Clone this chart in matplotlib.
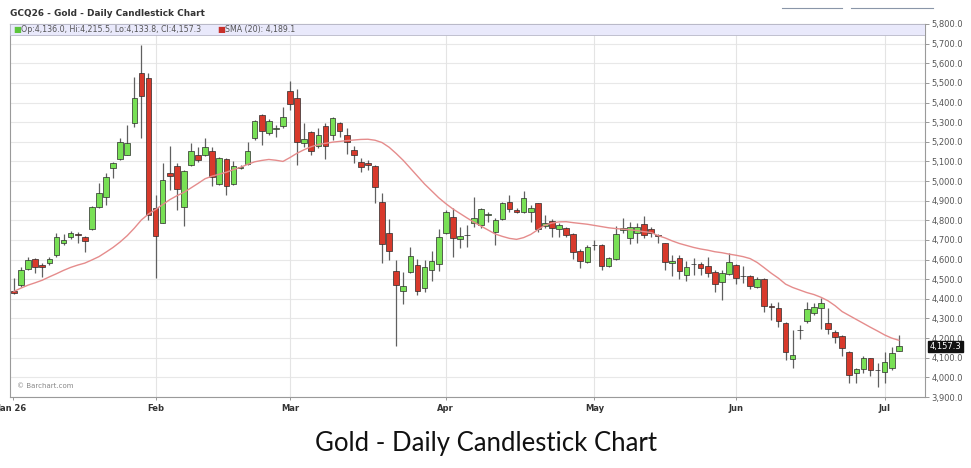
import numpy as np
import matplotlib
matplotlib.use("Agg")
import matplotlib.pyplot as plt
from matplotlib.patches import Rectangle
from matplotlib.lines import Line2D
import matplotlib.transforms as mtransforms

# daily bars, Jan 2 2026 .. Jul 2026 (trading days)
opens = [4441, 4470, 4550, 4601, 4572, 4584, 4623, 4686, 4713, 4730,
         4717, 4754, 4869, 4920, 5065, 5111, 5133, 5294, 5552, 5523,
         4861, 4788, 5039, 5077, 4869, 5082, 5133, 5133, 5155, 4985,
         5111, 4985, 5068, 5087, 5218, 5336, 5246, 5265, 5280, 5460,
         5421, 5192, 5251, 5179, 5282, 5235, 5294, 5235, 5158, 5099,
         5090, 5077, 4895, 4737, 4543, 4441, 4538, 4572, 4454, 4547,
         4577, 4737, 4818, 4703, 4723, 4785, 4776, 4828, 4742, 4805,
         4895, 4852, 4844, 4844, 4887, 4771, 4798, 4754, 4759, 4730,
         4645, 4589, 4672, 4674, 4567, 4601, 4749, 4708, 4737, 4781,
         4754, 4727, 4683, 4581, 4606, 4521, 4575, 4577, 4567, 4538,
         4487, 4526, 4572, 4518, 4516, 4459, 4499, 4362, 4352, 4275,
         4092, 4239, 4289, 4329, 4352, 4275, 4233, 4211, 4131, 4021,
         4041, 4097, 4035, 4029, 4046, 4136.0]
highs = [4506, 4564, 4615, 4610, 4581, 4615, 4737, 4730, 4747, 4742,
         4720, 4875, 4992, 5042, 5095, 5218, 5285, 5532, 5693, 5549,
         4929, 5090, 5179, 5090, 5055, 5192, 5175, 5218, 5175, 5122,
         5116, 5104, 5080, 5200, 5310, 5340, 5315, 5285, 5376, 5511,
         5467, 5294, 5255, 5269, 5294, 5328, 5302, 5269, 5179, 5116,
         5107, 5080, 4938, 4805, 4598, 4538, 4665, 4601, 4598, 4645,
         4754, 4852, 4861, 4767, 4776, 4920, 4861, 4844, 4810, 4895,
         4929, 4861, 4951, 4878, 4890, 4827, 4805, 4785, 4766, 4737,
         4655, 4674, 4700, 4680, 4615, 4771, 4810, 4793, 4788, 4822,
         4764, 4730, 4686, 4623, 4623, 4594, 4606, 4589, 4615, 4547,
         4547, 4632, 4577, 4567, 4521, 4513, 4504, 4377, 4385, 4280,
         4241, 4267, 4385, 4377, 4403, 4352, 4241, 4216, 4136, 4046,
         4109, 4100, 4071, 4131, 4156, 4215.5]
lows = [4425, 4462, 4545, 4532, 4513, 4572, 4615, 4674, 4703, 4683,
        4640, 4750, 4863, 4878, 5014, 5108, 5133, 5277, 5218, 4802,
        4505, 4785, 4954, 4852, 4771, 5075, 5099, 5128, 4975, 4980,
        4929, 4980, 5060, 5082, 5209, 5184, 5235, 5223, 5269, 5362,
        5082, 5175, 5133, 5167, 5111, 5209, 5226, 5138, 5090, 5048,
        5056, 4887, 4581, 4598, 4160, 4374, 4530, 4420, 4436, 4492,
        4543, 4730, 4615, 4657, 4665, 4767, 4759, 4793, 4674, 4800,
        4844, 4836, 4836, 4793, 4742, 4759, 4713, 4713, 4713, 4601,
        4555, 4584, 4649, 4547, 4561, 4598, 4737, 4679, 4683, 4708,
        4713, 4683, 4547, 4516, 4499, 4492, 4521, 4521, 4509, 4436,
        4394, 4521, 4475, 4482, 4448, 4456, 4334, 4292, 4258, 4088,
        4046, 4194, 4275, 4320, 4245, 4221, 4174, 4109, 3973, 3973,
        4024, 4007, 3952, 3970, 4037, 4133.8]
closes = [4428, 4547, 4598, 4561, 4561, 4601, 4713, 4700, 4737, 4725,
          4696, 4869, 4941, 5022, 5090, 5200, 5195, 5421, 5433, 4827,
          4720, 5005, 5026, 4958, 5051, 5155, 5107, 5175, 5022, 5116,
          4975, 5077, 5072, 5155, 5306, 5256, 5306, 5272, 5325, 5392,
          5200, 5213, 5155, 5235, 5179, 5320, 5256, 5200, 5133, 5073,
          5084, 4968, 4679, 4645, 4470, 4465, 4618, 4441, 4561, 4594,
          4713, 4844, 4708, 4720, 4727, 4810, 4856, 4834, 4802, 4887,
          4856, 4842, 4912, 4861, 4754, 4788, 4759, 4776, 4725, 4640,
          4594, 4665, 4676, 4567, 4606, 4730, 4759, 4764, 4764, 4725,
          4737, 4722, 4589, 4593, 4543, 4564, 4579, 4555, 4533, 4475,
          4530, 4589, 4504, 4514, 4465, 4499, 4363, 4358, 4289, 4131,
          4114, 4243, 4347, 4357, 4380, 4245, 4204, 4148, 4012, 4041,
          4097, 4037, 4039, 4080, 4122, 4157.3]
sma20 = [4438, 4455, 4470, 4482, 4495, 4512, 4528, 4545, 4560, 4572,
         4582, 4598, 4615, 4638, 4662, 4690, 4722, 4760, 4802, 4832,
         4855, 4880, 4905, 4925, 4942, 4965, 4988, 5012, 5025, 5035,
         5045, 5058, 5070, 5085, 5098, 5105, 5110, 5106, 5100, 5120,
         5142, 5160, 5175, 5186, 5192, 5198, 5202, 5206, 5209, 5212,
         5213, 5208, 5196, 5172, 5140, 5105, 5065, 5025, 4985, 4950,
         4915, 4885, 4858, 4835, 4812, 4790, 4770, 4750, 4730, 4718,
         4708, 4703, 4712, 4728, 4752, 4775, 4786, 4792, 4793, 4788,
         4784, 4780, 4774, 4768, 4762, 4758, 4755, 4752, 4748, 4742,
         4738, 4722, 4710, 4695, 4682, 4672, 4662, 4654, 4648, 4640,
         4635, 4628, 4622, 4615, 4605, 4585, 4558, 4530, 4505, 4475,
         4458, 4445, 4432, 4422, 4408, 4390, 4365, 4335, 4315, 4295,
         4275, 4255, 4236, 4216, 4200, 4189.1]

# first trading day of each month (bar index)
month_idx = [-0.2, 20, 39, 61, 82, 102, 123]
month_lbl = ['Jan 26', 'Feb', 'Mar', 'Apr', 'May', 'Jun', 'Jul']

o = np.array(opens); h = np.array(highs); l = np.array(lows); c = np.array(closes)
x = np.arange(len(c))

W, H = 971, 468
fig = plt.figure(figsize=(W / 100, H / 100), dpi=100)
ax = fig.add_axes([10 / W, 1 - 397 / H, (925 - 10) / W, (397 - 24) / H])

up = c >= o
body_col = np.where(up, '#78e055', '#d8392b')

# grid
for v in range(3900, 5801, 100):
    ax.axhline(v, color='#e8e8e8', lw=0.8, zorder=0)
for m in month_idx[1:]:
    ax.axvline(m, color='#e4e4e4', lw=0.8, zorder=0)

ax.vlines(x, l, h, color='#606060', lw=0.9, zorder=2)
ax.bar(x, np.abs(c - o), bottom=np.minimum(o, c), width=0.8,
       color=body_col, edgecolor='#2a2a2a', linewidth=0.5, zorder=3)
ax.plot(x, sma20, color='#e58c8c', lw=1.0, zorder=4)

ax.set_xlim(-0.565, 128.7)
ax.set_ylim(3900, 5800)

ax.yaxis.tick_right()
ax.set_yticks(range(3900, 5801, 100))
ax.set_yticklabels([f"{v:,.1f}" for v in range(3900, 5801, 100)])
ax.tick_params(axis='y', length=3, width=0.6, color='#888', labelsize=6,
               labelcolor='#555', pad=1.5)
ax.set_xticks(month_idx)
ax.set_xticklabels(month_lbl, fontweight='bold')
ax.tick_params(axis='x', length=2, width=0.6, color='#888', labelsize=6,
               labelcolor='#333', pad=3)
for s in ax.spines.values():
    s.set_color('#9a9a9a')
    s.set_linewidth(0.8)

# legend band along the top of the plot
band = mtransforms.blended_transform_factory(ax.transAxes, ax.transData)
ax.add_patch(Rectangle((0, (5746 - 3900) / 1900), 1, (5800 - 5746) / 1900,
                       transform=ax.transAxes, facecolor='#e9e9fb',
                       edgecolor='#b8b8c8', lw=0.6, zorder=5))
ax.text(0.004, 5773, '\u25a0', color='#5cc43c', fontsize=6, va='center',
        zorder=6, transform=band)
ax.text(0.0115, 5773, 'Op:4,136.0, Hi:4,215.5, Lo:4,133.8, Cl:4,157.3',
        color='#555', fontsize=5.7, va='center', zorder=6, transform=band)
ax.text(0.227, 5773, '\u25a0', color='#c8302a', fontsize=6, va='center',
        zorder=6, transform=band)
ax.text(0.2345, 5773, 'SMA (20): 4,189.1', color='#555', fontsize=5.7,
        va='center', zorder=6, transform=band)

# last price flag
ax.text(1.005, c[-1], f"{c[-1]:,.1f}", color='white', fontsize=6, va='center',
        ha='left', zorder=7, clip_on=False, transform=band,
        bbox=dict(boxstyle='square,pad=0.15', fc='#111', ec='#111'))

ax.text(0.008, 0.03, '\u00a9 Barchart.com', transform=ax.transAxes,
        fontsize=5, color='#888', va='center')

fig.text(10 / W, 1 - 14 / H, 'GCQ26 - Gold - Daily Candlestick Chart',
         fontsize=6.4, fontweight='bold', color='#333', va='center')
fig.add_artist(Line2D([782 / W, 842 / W], [1 - 7.5 / H] * 2, color='#8a96a8', lw=0.8))
fig.add_artist(Line2D([851 / W, 933 / W], [1 - 7.5 / H] * 2, color='#8a96a8', lw=0.8))

fig.text(0.5, 1 - 443 / H, 'Gold - Daily Candlestick Chart', fontsize=18.5,
         family='Lato', color='#111', ha='center', va='center')

fig.savefig('out.png', dpi=100, facecolor='white')
